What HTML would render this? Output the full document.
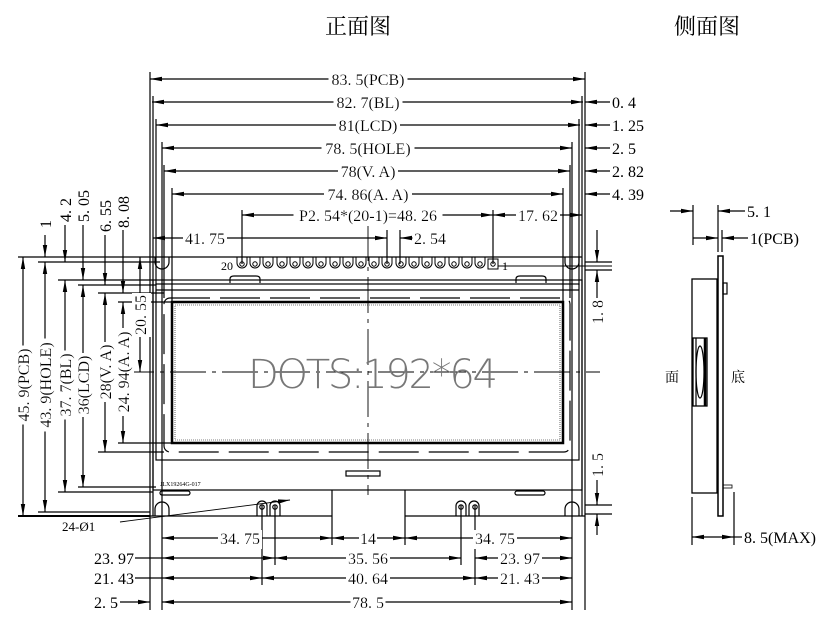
<!DOCTYPE html>
<html><head><meta charset="utf-8"><style>
html,body{margin:0;padding:0;background:#fff;}
svg{display:block;}
text{font-family:"Liberation Serif","Noto Serif CJK SC",serif;font-size:16px;fill:#000;}
.l{filter:url(#bg);}
</style></head><body>
<svg width="827" height="621" viewBox="0 0 827 621" xmlns="http://www.w3.org/2000/svg">
<defs>
<marker id="a" viewBox="0 0 12 6" refX="12" refY="3" markerWidth="12" markerHeight="6" markerUnits="userSpaceOnUse" orient="auto-start-reverse"><path d="M0,0.8 L12,3 L0,5.2z" fill="#000"/></marker>
<filter id="bg" x="-0.04" y="-0.05" width="1.08" height="1.1"><feFlood flood-color="#fff"/><feComposite in="SourceGraphic"/></filter>
</defs>
<text x="358" y="34" text-anchor="middle" style="font-family:'Noto Serif CJK SC',serif;font-size:22px">正面图</text>
<text x="707" y="34" text-anchor="middle" style="font-family:'Noto Serif CJK SC',serif;font-size:22px">侧面图</text>

<g stroke="#000" stroke-width="1.2" fill="none">
<line x1="150" y1="79" x2="585" y2="79" marker-start="url(#a)" marker-end="url(#a)"/>
<line x1="152" y1="102" x2="583" y2="102" marker-start="url(#a)" marker-end="url(#a)"/>
<line x1="156" y1="125" x2="580" y2="125" marker-start="url(#a)" marker-end="url(#a)"/>
<line x1="162" y1="148" x2="572" y2="148" marker-start="url(#a)" marker-end="url(#a)"/>
<line x1="164" y1="171" x2="570" y2="171" marker-start="url(#a)" marker-end="url(#a)"/>
<line x1="172" y1="194" x2="563" y2="194" marker-start="url(#a)" marker-end="url(#a)"/>
<line x1="610" y1="102" x2="585" y2="102" marker-end="url(#a)"/>
<line x1="610" y1="125" x2="585" y2="125" marker-end="url(#a)"/>
<line x1="610" y1="148" x2="585" y2="148" marker-end="url(#a)"/>
<line x1="610" y1="171" x2="585" y2="171" marker-end="url(#a)"/>
<line x1="610" y1="194" x2="585" y2="194" marker-end="url(#a)"/>
<line x1="150" y1="72" x2="150" y2="610"/>
<line x1="153" y1="96" x2="153" y2="516"/>
<line x1="585" y1="72" x2="585" y2="610"/>
<line x1="582" y1="96" x2="582" y2="516"/>
<line x1="156" y1="119" x2="156" y2="285"/>
<line x1="579" y1="119" x2="579" y2="285"/>
<line x1="162" y1="142" x2="162" y2="610"/>
<line x1="572" y1="142" x2="572" y2="610"/>
<line x1="164" y1="165" x2="164" y2="298"/>
<line x1="570" y1="165" x2="570" y2="298"/>
<line x1="172" y1="188" x2="172" y2="302"/>
<line x1="563" y1="188" x2="563" y2="302"/>
<line x1="242" y1="210" x2="242" y2="264"/>
<line x1="493" y1="210" x2="493" y2="264"/>
<line x1="242" y1="215" x2="493" y2="215" marker-start="url(#a)" marker-end="url(#a)"/>
<line x1="493" y1="215" x2="582" y2="215" marker-start="url(#a)" marker-end="url(#a)"/>
<line x1="153" y1="238" x2="387" y2="238" marker-start="url(#a)" marker-end="url(#a)"/>
<line x1="387" y1="230" x2="387" y2="264"/>
<line x1="400" y1="230" x2="400" y2="264"/>
<line x1="440" y1="238" x2="400" y2="238" marker-end="url(#a)"/>
<line x1="153" y1="257" x2="582" y2="257"/>
<line x1="150" y1="516" x2="332" y2="516"/>
<line x1="405" y1="516" x2="585" y2="516"/>
<line x1="332" y1="490" x2="332" y2="516"/>
<line x1="405" y1="490" x2="405" y2="516"/>
<path d="M155,257 L155,262 A7,7 0 0 0 169,262 L169,257"/>
<path d="M565,257 L565,262 A7,7 0 0 0 579,262 L579,257"/>
<path d="M155,516 L155,509 A7,7 0 0 1 169,509 L169,516"/>
<path d="M565,516 L565,509 A7,7 0 0 1 579,509 L579,516"/>
<rect x="153" y="280" width="429" height="210"/>
<rect x="156" y="284" width="423" height="176"/>
<line x1="156" y1="290" x2="579" y2="290"/>
<path d="M230,283 L230,279 Q230,276 234,276 L256,276 Q260,276 260,279 L260,283"/>
<path d="M516,283 L516,279 Q516,276 520,276 L542,276 Q546,276 546,279 L546,283"/>
<rect x="160" y="491" width="30" height="4" rx="2"/>
<rect x="515" y="491" width="30" height="4" rx="2"/>
<rect x="346" y="471" width="34" height="5"/>
<rect x="164" y="298" width="406" height="154" rx="6" stroke-dasharray="40,10"/>
<rect x="172" y="302" width="391" height="141" stroke-width="2.5"/>
<rect x="175" y="305" width="385" height="135" stroke-width="0.6" stroke-dasharray="1,1"/>
<line x1="368" y1="225" x2="368" y2="495" stroke-dasharray="36,6,4,6" stroke-width="0.9"/>
<line x1="118" y1="372" x2="600" y2="372" stroke-dasharray="36,6,4,6" stroke-width="0.9"/>
<line x1="585" y1="262" x2="612" y2="262"/>
<line x1="585" y1="270" x2="612" y2="270"/>
<line x1="597" y1="230" x2="597" y2="262" marker-end="url(#a)"/>
<line x1="597" y1="298" x2="597" y2="270" marker-end="url(#a)"/>
<line x1="585" y1="505" x2="612" y2="505"/>
<line x1="585" y1="514" x2="612" y2="514"/>
<line x1="597" y1="480" x2="597" y2="505" marker-end="url(#a)"/>
<line x1="597" y1="535" x2="597" y2="514" marker-end="url(#a)"/>
<line x1="18" y1="257" x2="153" y2="257"/>
<line x1="18" y1="516" x2="150" y2="516" stroke-width="2"/>
<line x1="38" y1="262" x2="160" y2="262"/>
<line x1="38" y1="512" x2="150" y2="512"/>
<line x1="58" y1="280" x2="153" y2="280"/>
<line x1="58" y1="492" x2="153" y2="492"/>
<line x1="78" y1="285" x2="156" y2="285"/>
<line x1="78" y1="487" x2="156" y2="487"/>
<line x1="98" y1="293" x2="164" y2="293"/>
<line x1="98" y1="452" x2="164" y2="452"/>
<line x1="118" y1="302" x2="172" y2="302"/>
<line x1="118" y1="443" x2="172" y2="443"/>
<line x1="23" y1="257" x2="23" y2="516" marker-start="url(#a)" marker-end="url(#a)"/>
<line x1="45" y1="262" x2="45" y2="512" marker-start="url(#a)" marker-end="url(#a)"/>
<line x1="65" y1="280" x2="65" y2="492" marker-start="url(#a)" marker-end="url(#a)"/>
<line x1="83" y1="285" x2="83" y2="487" marker-start="url(#a)" marker-end="url(#a)"/>
<line x1="105" y1="293" x2="105" y2="452" marker-start="url(#a)" marker-end="url(#a)"/>
<line x1="123" y1="302" x2="123" y2="443" marker-start="url(#a)" marker-end="url(#a)"/>
<line x1="45" y1="235" x2="45" y2="257" marker-end="url(#a)"/>
<line x1="65" y1="225" x2="65" y2="262" marker-end="url(#a)"/>
<line x1="83" y1="225" x2="83" y2="280" marker-end="url(#a)"/>
<line x1="105" y1="235" x2="105" y2="285" marker-end="url(#a)"/>
<line x1="123" y1="230" x2="123" y2="293" marker-end="url(#a)"/>
<line x1="140" y1="257" x2="140" y2="372" marker-start="url(#a)" marker-end="url(#a)"/>
<line x1="262" y1="505" x2="262" y2="585"/>
<line x1="275" y1="505" x2="275" y2="565"/>
<line x1="332" y1="516" x2="332" y2="545"/>
<line x1="405" y1="516" x2="405" y2="545"/>
<line x1="461" y1="505" x2="461" y2="565"/>
<line x1="475" y1="505" x2="475" y2="585"/>
<line x1="162" y1="538" x2="332" y2="538" marker-start="url(#a)" marker-end="url(#a)"/>
<line x1="332" y1="538" x2="405" y2="538" marker-start="url(#a)" marker-end="url(#a)"/>
<line x1="405" y1="538" x2="572" y2="538" marker-start="url(#a)" marker-end="url(#a)"/>
<line x1="135" y1="558" x2="162" y2="558"/>
<line x1="162" y1="558" x2="275" y2="558" marker-start="url(#a)" marker-end="url(#a)"/>
<line x1="275" y1="558" x2="461" y2="558" marker-start="url(#a)" marker-end="url(#a)"/>
<line x1="475" y1="558" x2="572" y2="558" marker-start="url(#a)" marker-end="url(#a)"/>
<line x1="135" y1="578" x2="162" y2="578"/>
<line x1="162" y1="578" x2="262" y2="578" marker-start="url(#a)" marker-end="url(#a)"/>
<line x1="262" y1="578" x2="475" y2="578" marker-start="url(#a)" marker-end="url(#a)"/>
<line x1="475" y1="578" x2="572" y2="578" marker-start="url(#a)" marker-end="url(#a)"/>
<line x1="120" y1="602" x2="150" y2="602" marker-end="url(#a)"/>
<line x1="162" y1="602" x2="572" y2="602" marker-start="url(#a)" marker-end="url(#a)"/>
<line x1="120" y1="522" x2="290" y2="500" marker-end="url(#a)" stroke-width="0.9"/>
<path d="M257,516 L257,506 A5,5 0 0 1 267,506 L267,516 M270,516 L270,506 A5,5 0 0 1 280,506 L280,516"/>
<path d="M456,516 L456,506 A5,5 0 0 1 466,506 L466,516 M469,516 L469,506 A5,5 0 0 1 479,506 L479,516"/>
<circle cx="262" cy="507" r="2.2"/><circle cx="275" cy="507" r="2.2"/>
<circle cx="461" cy="507" r="2.2"/><circle cx="475" cy="507" r="2.2"/>
<line x1="693" y1="205" x2="693" y2="245"/>
<line x1="718" y1="205" x2="718" y2="252"/>
<line x1="722" y1="230" x2="722" y2="252"/>
<line x1="670" y1="211" x2="693" y2="211" marker-end="url(#a)"/>
<line x1="745" y1="211" x2="718" y2="211" marker-end="url(#a)"/>
<line x1="693" y1="238" x2="718" y2="238" marker-end="url(#a)"/>
<line x1="748" y1="238" x2="722" y2="238" marker-end="url(#a)"/>
<rect x="718" y="256" width="5" height="260" stroke-width="1.5"/>
<rect x="692" y="279" width="25" height="214" stroke-width="1.3"/>
<rect x="723" y="283" width="4" height="11"/>
<rect x="693" y="338" width="14" height="68" stroke-width="1.3"/>
<line x1="696" y1="338" x2="696" y2="406"/>
<line x1="705" y1="338" x2="705" y2="406" stroke-width="2.5"/>
<ellipse cx="700" cy="372" rx="4" ry="26"/>
<rect x="723" y="485" width="9" height="3" stroke-width="0.8"/>
<line x1="692" y1="497" x2="692" y2="545"/>
<line x1="734" y1="492" x2="734" y2="545"/>
<line x1="692" y1="537" x2="734" y2="537" marker-start="url(#a)" marker-end="url(#a)"/>
<line x1="734" y1="537" x2="742" y2="537"/>
</g>
<g stroke="#000" stroke-width="1" fill="none">
<path d="M237,257 v6 a5,5 0 0 0 10,0 v-6 M250,257 v6 a5,5 0 0 0 10,0 v-6 M263,257 v6 a5,5 0 0 0 10,0 v-6 M277,257 v6 a5,5 0 0 0 10,0 v-6 M290,257 v6 a5,5 0 0 0 10,0 v-6 M303,257 v6 a5,5 0 0 0 10,0 v-6 M316,257 v6 a5,5 0 0 0 10,0 v-6 M330,257 v6 a5,5 0 0 0 10,0 v-6 M343,257 v6 a5,5 0 0 0 10,0 v-6 M356,257 v6 a5,5 0 0 0 10,0 v-6 M369,257 v6 a5,5 0 0 0 10,0 v-6 M382,257 v6 a5,5 0 0 0 10,0 v-6 M396,257 v6 a5,5 0 0 0 10,0 v-6 M409,257 v6 a5,5 0 0 0 10,0 v-6 M422,257 v6 a5,5 0 0 0 10,0 v-6 M435,257 v6 a5,5 0 0 0 10,0 v-6 M449,257 v6 a5,5 0 0 0 10,0 v-6 M462,257 v6 a5,5 0 0 0 10,0 v-6 M475,257 v6 a5,5 0 0 0 10,0 v-6"/>
<rect x="488" y="259" width="10" height="10"/>
<circle cx="242" cy="264" r="2.2"/><circle cx="255" cy="264" r="2.2"/><circle cx="268" cy="264" r="2.2"/><circle cx="282" cy="264" r="2.2"/><circle cx="295" cy="264" r="2.2"/><circle cx="308" cy="264" r="2.2"/><circle cx="321" cy="264" r="2.2"/><circle cx="335" cy="264" r="2.2"/><circle cx="348" cy="264" r="2.2"/><circle cx="361" cy="264" r="2.2"/><circle cx="374" cy="264" r="2.2"/><circle cx="387" cy="264" r="2.2"/><circle cx="401" cy="264" r="2.2"/><circle cx="414" cy="264" r="2.2"/><circle cx="427" cy="264" r="2.2"/><circle cx="440" cy="264" r="2.2"/><circle cx="454" cy="264" r="2.2"/><circle cx="467" cy="264" r="2.2"/><circle cx="480" cy="264" r="2.2"/><circle cx="493" cy="264" r="2.2"/>
<line x1="498" y1="266" x2="612" y2="266"/>
</g>
<text x="221" y="270" style="font-size:12px">20</text>
<text x="502" y="270" style="font-size:12px">1</text>
<text x="160" y="486" style="font-size:6px">JLX19264G-017</text>
<text x="373" y="388" text-anchor="middle" style="font-family:'DejaVu Sans',sans-serif;font-size:40px;font-weight:200;fill:#777" textLength="250">DOTS:192*64</text>

<text class="l" x="368" y="85" text-anchor="middle">83. 5(PCB)</text>
<text class="l" x="368" y="108" text-anchor="middle">82. 7(BL)</text>
<text class="l" x="368" y="131" text-anchor="middle">81(LCD)</text>
<text class="l" x="368" y="154" text-anchor="middle">78. 5(HOLE)</text>
<text class="l" x="368" y="177" text-anchor="middle">78(V. A)</text>
<text class="l" x="368" y="200" text-anchor="middle">74. 86(A. A)</text>
<text class="l" x="368" y="221" text-anchor="middle">P2. 54*(20-1)=48. 26</text>
<text class="l" x="538" y="221" text-anchor="middle">17. 62</text>
<text class="l" x="205" y="244" text-anchor="middle">41. 75</text>
<text class="l" x="430" y="244" text-anchor="middle">2. 54</text>
<text class="l" x="240" y="544" text-anchor="middle">34. 75</text>
<text class="l" x="368" y="544" text-anchor="middle">14</text>
<text class="l" x="495" y="544" text-anchor="middle">34. 75</text>
<text class="l" x="368" y="564" text-anchor="middle">35. 56</text>
<text class="l" x="520" y="564" text-anchor="middle">23. 97</text>
<text class="l" x="368" y="584" text-anchor="middle">40. 64</text>
<text class="l" x="520" y="584" text-anchor="middle">21. 43</text>
<text class="l" x="368" y="608" text-anchor="middle">78. 5</text>
<text x="134" y="564" text-anchor="end">23. 97</text>
<text x="134" y="584" text-anchor="end">21. 43</text>
<text x="118" y="608" text-anchor="end">2. 5</text>
<text x="62" y="531" style="font-size:13px">24-Ø1</text>
<text x="612" y="108">0. 4</text>
<text x="612" y="131">1. 25</text>
<text x="612" y="154">2. 5</text>
<text x="612" y="177">2. 82</text>
<text x="612" y="200">4. 39</text>
<text x="747" y="217">5. 1</text>
<text x="750" y="244">1(PCB)</text>
<text x="744" y="543">8. 5(MAX)</text>
<text x="665" y="382" style="font-family:'Noto Serif CJK SC',serif;font-size:14px">面</text>
<text x="731" y="382" style="font-family:'Noto Serif CJK SC',serif;font-size:14px">底</text>
<text class="l" transform="translate(29,385) rotate(-90)" text-anchor="middle">45. 9(PCB)</text>
<text class="l" transform="translate(51,385) rotate(-90)" text-anchor="middle">43. 9(HOLE)</text>
<text class="l" transform="translate(71,385) rotate(-90)" text-anchor="middle">37. 7(BL)</text>
<text class="l" transform="translate(89,385) rotate(-90)" text-anchor="middle">36(LCD)</text>
<text class="l" transform="translate(111,372) rotate(-90)" text-anchor="middle">28(V. A)</text>
<text class="l" transform="translate(129,372) rotate(-90)" text-anchor="middle">24. 94(A. A)</text>
<text class="l" transform="translate(146,315) rotate(-90)" text-anchor="middle">20. 55</text>
<text transform="translate(51,228) rotate(-90)">1</text>
<text transform="translate(71,222) rotate(-90)">4. 2</text>
<text transform="translate(89,222) rotate(-90)">5. 05</text>
<text transform="translate(111,232) rotate(-90)">6. 55</text>
<text transform="translate(129,228) rotate(-90)">8. 08</text>
<text class="l" transform="translate(603,312) rotate(-90)" text-anchor="middle">1. 8</text>
<text class="l" transform="translate(603,465) rotate(-90)" text-anchor="middle">1. 5</text>
</svg>
</body></html>
